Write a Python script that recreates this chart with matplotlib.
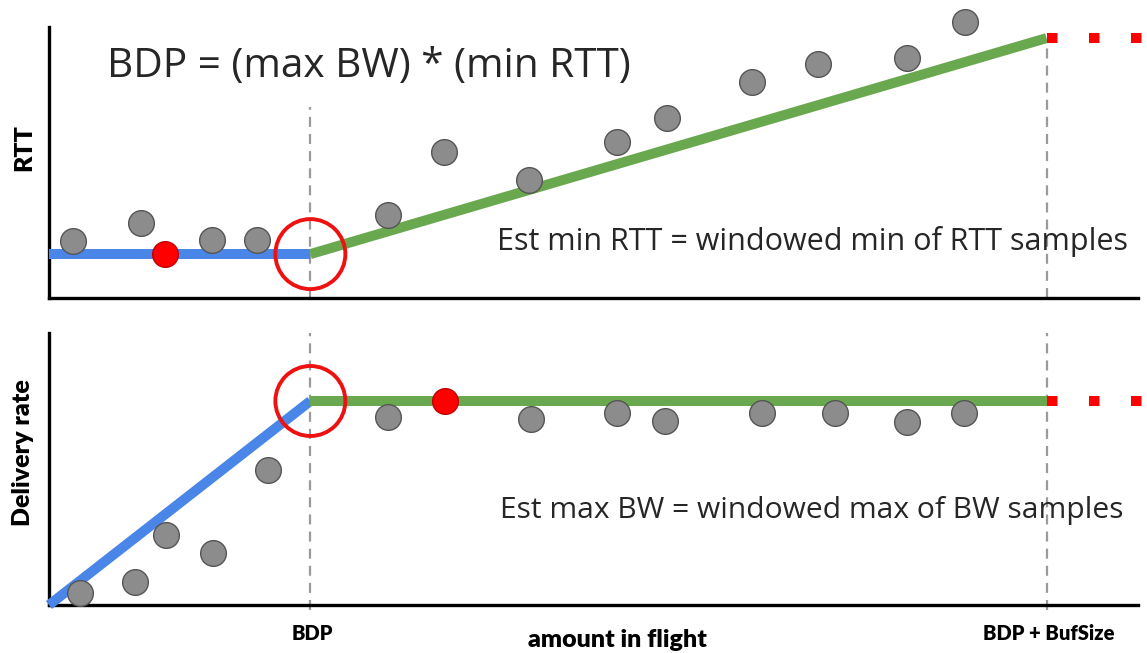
import matplotlib
matplotlib.use("Agg")
import matplotlib.pyplot as plt
from matplotlib.patches import Ellipse

# amount in flight, arbitrary units (axis spans 0..100)
bdp = 24.0
bdp_buf = 91.6

# RTT panel
rtt_floor = 16.2
rtt_at_buf = 95.9
rtt_x = [2.2, 8.45, 14.97, 19.1, 31.13, 36.27, 44.08, 52.16, 56.75, 64.55, 70.62, 78.79, 84.11]
rtt_y = [21.0, 27.7, 21.4, 21.4, 30.6, 53.9, 43.5, 57.6, 66.4, 79.7, 86.3, 88.6, 101.8]
rtt_min_x, rtt_min_y = 10.65, 16.2

# delivery rate panel
bw_max = 75.0
bw_x = [2.85, 7.9, 10.74, 15.06, 20.11, 31.13, 44.26, 52.16, 56.57, 65.47, 72.18, 78.79, 84.02]
bw_y = [4.4, 8.5, 25.7, 19.1, 49.6, 69.1, 68.4, 70.6, 67.6, 70.6, 70.6, 67.3, 70.6]
bw_max_x, bw_max_y = 36.36, 75.0

x_ticks = [bdp, bdp_buf]
x_tick_labels = ["BDP", "BDP + BufSize"]

BLUE = "#4a86e8"
GREEN = "#6aa84f"
RED = "#ff0000"
GRAY = "#8c8c8c"
GRAY_EDGE = "#555555"
TEXT = "#262626"
LABEL_FONT = dict(family="Lato", fontweight="heavy", color="black")

W, H = 1147, 653
fig = plt.figure(figsize=(W / 100, H / 100), dpi=100)
fig.patch.set_facecolor("white")

def px_axes(left, top, right, bottom):
    return fig.add_axes([left / W, 1 - bottom / H, (right - left) / W, (bottom - top) / H])

ax_rtt = px_axes(49, 27, 1138, 298)
ax_bw = px_axes(49, 333, 1138, 605)

LW = 7.2  # thick model lines
for ax in (ax_rtt, ax_bw):
    ax.set_xlim(0, 100)
    ax.set_ylim(0, 100)
    for s in ("top", "right"):
        ax.spines[s].set_visible(False)
    for s in ("left", "bottom"):
        ax.spines[s].set_linewidth(2.4)
        ax.spines[s].set_color("black")
    ax.set_yticks([])
    ax.set_xticks([])
    ax.patch.set_alpha(0)

def vguide(ax, x, y0, y1):
    ax.plot([x, x], [y0, y1], color="#9a9a9a", lw=1.6, dashes=(4.5, 3.2),
            clip_on=False, zorder=1)

def red_dots(ax, x0, y):
    ax.plot([x0, 101.5], [y, y], color=RED, lw=LW, dashes=(1.05, 3.15),
            solid_capstyle="butt", dash_capstyle="butt", clip_on=False, zorder=3)

def samples(ax, xs, ys):
    ax.plot(xs, ys, "o", ms=18.5, mfc=GRAY, mec=GRAY_EDGE, mew=1.0,
            ls="none", clip_on=False, zorder=5)

def highlight(ax, x, y):
    ax.plot([x], [y], "o", ms=18.5, mfc=RED, mec="#c00000", mew=1.0,
            clip_on=False, zorder=6)

def ring(ax, x, y, r_px):
    w = 2 * r_px / 10.89
    h = 2 * r_px / (ax.bbox.height / 100)
    ax.add_patch(Ellipse((x, y), w, h, fill=False, ec="#ee1111", lw=2.8,
                         clip_on=False, zorder=7))

# --- RTT vs amount in flight ---
vguide(ax_rtt, bdp, 0, 70.5)
vguide(ax_rtt, bdp_buf, 0, 95)
ax_rtt.plot([0, bdp], [rtt_floor, rtt_floor], color=BLUE, lw=LW,
            solid_capstyle="butt", clip_on=False, zorder=3)
ax_rtt.plot([bdp, bdp_buf], [rtt_floor, rtt_at_buf], color=GREEN, lw=LW,
            solid_capstyle="butt", clip_on=False, zorder=3)
red_dots(ax_rtt, bdp_buf, rtt_at_buf)
samples(ax_rtt, rtt_x, rtt_y)
highlight(ax_rtt, rtt_min_x, rtt_min_y)
ring(ax_rtt, bdp, rtt_floor, 35)

ax_rtt.text(5.33, 81.5, "BDP = (max BW) * (min RTT)", fontsize=29.2,
            family="Open Sans", color=TEXT, va="baseline", ha="left")
ax_rtt.text(41.1, 17.7, "Est min RTT = windowed min of RTT samples", fontsize=22.0,
            family="Open Sans", color=TEXT, va="baseline", ha="left", zorder=2)
ax_rtt.set_ylabel("RTT", fontsize=18, labelpad=0, **LABEL_FONT)
ax_rtt.yaxis.set_label_coords(-14 / 1089, 0.555)

# --- Delivery rate vs amount in flight ---
vguide(ax_bw, bdp, -2, 100)
vguide(ax_bw, bdp_buf, -2, 100)
ax_bw.plot([0, bdp], [0, bw_max], color=BLUE, lw=LW,
           solid_capstyle="butt", clip_on=False, zorder=3)
ax_bw.plot([bdp, bdp_buf], [bw_max, bw_max], color=GREEN, lw=LW,
           solid_capstyle="butt", clip_on=False, zorder=3)
red_dots(ax_bw, bdp_buf, bw_max)
samples(ax_bw, bw_x, bw_y)
highlight(ax_bw, bw_max_x, bw_max_y)
ring(ax_bw, bdp, bw_max, 35)

ax_bw.text(41.4, 32.0, "Est max BW = windowed max of BW samples", fontsize=21.6,
           family="Open Sans", color=TEXT, va="baseline", ha="left", zorder=2)
ax_bw.set_ylabel("Delivery rate", fontsize=18, labelpad=0, **LABEL_FONT)
ax_bw.yaxis.set_label_coords(-15 / 1089, 0.56)

for xt, lab in zip(x_ticks, x_tick_labels):
    ax_bw.text(xt + 0.2, -10.5, lab, fontsize=14.5, ha="center", va="center",
               clip_on=False, **LABEL_FONT)
ax_bw.text(52.2, -12.8, "amount in flight", fontsize=18, ha="center",
           va="center", clip_on=False, **LABEL_FONT)

fig.savefig("out.png", dpi=100, facecolor="white")
